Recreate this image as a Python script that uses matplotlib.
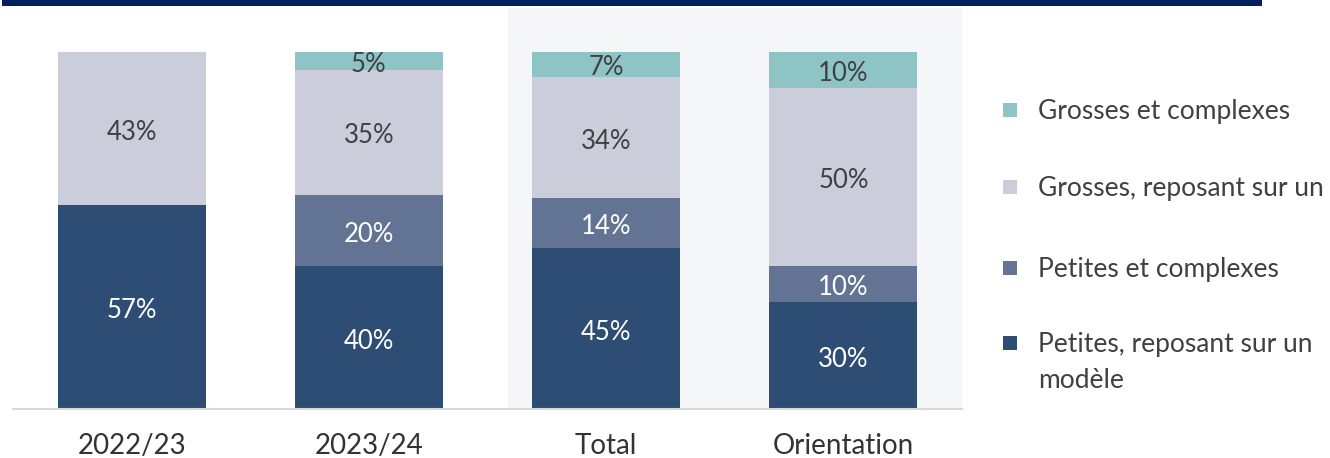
import matplotlib
matplotlib.use("Agg")
import matplotlib.pyplot as plt
from matplotlib.patches import Rectangle

plt.rcParams['font.family'] = ['Lato', 'DejaVu Sans']

categories = ["2022/23", "2023/24", "Total", "Orientation"]
series_names = ["Petites, reposant sur un\nmodèle", "Petites et complexes",
                "Grosses, reposant sur un", "Grosses et complexes"]
petites_modele = [57, 40, 45, 30]
petites_complexes = [0, 20, 14, 10]
grosses_modele = [43, 35, 34, 50]
grosses_complexes = [0, 5, 7, 10]
series = [petites_modele, petites_complexes, grosses_modele, grosses_complexes]
colors = ["#2E4D74", "#627394", "#CBCDDB", "#8FC4C6"]
label_colors = ["white", "white", "#404040", "#404040"]

fig = plt.figure(figsize=(13.3, 4.58), dpi=100)
ax = fig.add_axes([13/1330, 49/458, (962-13)/1330, (409-8)/458])
ax.set_xlim(-0.5, 3.5)
ax.set_ylim(0, 112.3)
ax.axvspan(1.586, 3.5, color="#F5F6F8", zorder=0)

x = list(range(len(categories)))
bottom = [0]*len(categories)
for vals, c, lc in zip(series, colors, label_colors):
    bars = ax.bar(x, vals, width=0.624, bottom=bottom, color=c, zorder=2)
    for xi, v, b in zip(x, vals, bottom):
        if v > 0:
            ax.text(xi, b + v/2 - 1.0, f"{v}%", ha="center", va="center",
                    fontsize=18.5, color=lc, zorder=3)
    bottom = [b + v for b, v in zip(bottom, vals)]

for s in ["top", "right", "left"]:
    ax.spines[s].set_visible(False)
ax.spines["bottom"].set_color("#D9D9D9")
ax.spines["bottom"].set_linewidth(1.5)
ax.set_yticks([])
ax.set_xticks(x)
ax.set_xticklabels(categories, fontsize=20, color="#333333")
ax.tick_params(axis="x", length=0, pad=17)

# top band
fig.add_artist(Rectangle((2/1330, 1 - 6/458), 1260/1330, 6/458,
                         transform=fig.transFigure, color="#00205F", lw=0))

# legend (top to bottom: reverse order of stacking)
leg_y = [110, 187, 268, 343]
for yy, name, c in zip(leg_y, series_names[::-1], colors[::-1]):
    fig.add_artist(Rectangle((1003/1330, 1 - (yy + 7)/458), 14/1330, 14/458,
                             transform=fig.transFigure, color=c, lw=0))
    fig.text(1038/1330, 1 - (yy - 11)/458, name, ha="left", va="top",
             fontsize=19, color="#404040", linespacing=1.55)

fig.savefig("out.png", dpi=100)
